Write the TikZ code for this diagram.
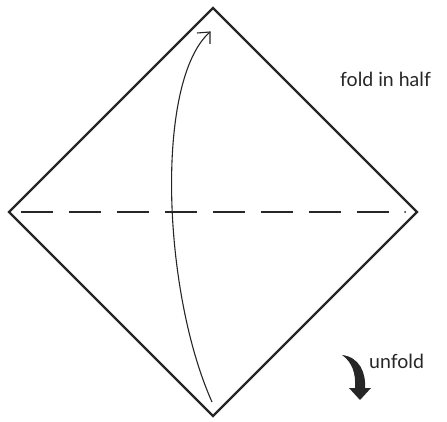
\documentclass[tikz,border=0pt]{standalone}
\usepackage{fontspec}
\setmainfont{Lato}
\begin{document}
\begin{tikzpicture}[x=1pt,y=-1pt,
  edge/.style={line width=2.4pt,line join=miter,black!85},
  crease/.style={line width=1.8pt,black!85,dash pattern=on 32pt off 16pt},
  foldarrow/.style={line width=1.1pt,black!85},
  lbl/.style={font=\fontsize{19.5}{22}\selectfont,text=black!85,inner sep=0pt}]
\useasboundingbox (0,0) rectangle (447,422);
\coordinate (T) at (213,8);
\coordinate (L) at (9,212);
\coordinate (R) at (417,212);
\coordinate (B) at (213,416);
\draw[edge] (T) -- (R) -- (B) -- (L) -- cycle;
% crease
\coordinate (c1) at (21,212);
\coordinate (c2) at (389,212);
\coordinate (cd) at (405,212);
\draw[crease] (c1) -- (c2);
\fill[black!85] (cd) circle (1pt);
% fold arrow
\coordinate (s) at (212,402);
\coordinate (e) at (210,32);
\draw[foldarrow] (s) .. controls (162,290) and (155,80) .. (e);
\coordinate (b1) at (197,33);
\coordinate (b2) at (210,44);
\draw[foldarrow,line join=miter] (b1) -- (e) -- (b2);
% labels
\node[lbl,anchor=base west] (fold) at (340,87) {fold in half};
\node[lbl,anchor=base west] (unf) at (369,368) {unfold};
% unfold arrow
\fill[black!85] (342,355) .. controls (359,357) and (366,372) .. (365,388)
  -- (371,388) -- (360,400) -- (349,388) -- (355,388)
  .. controls (356,373) and (352,362) .. (342,355) -- cycle;
\end{tikzpicture}
\end{document}
